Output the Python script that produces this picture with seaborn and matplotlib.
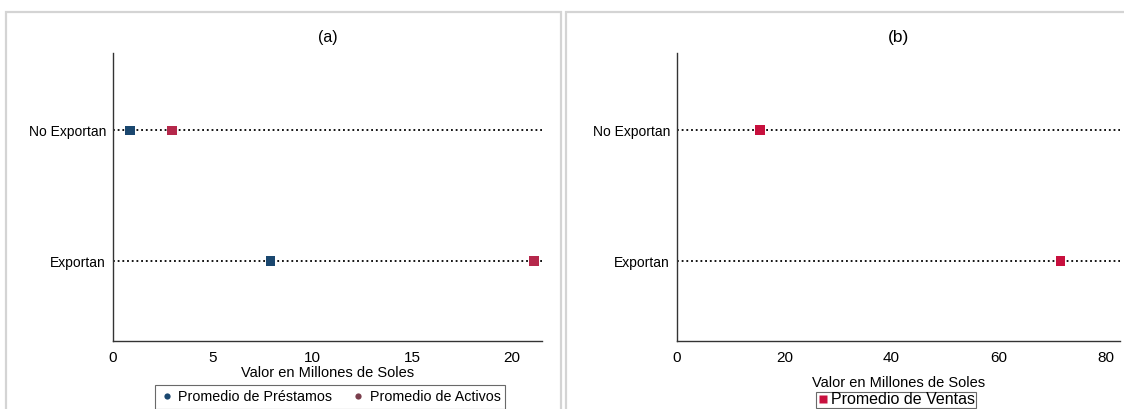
import pandas as pd
import matplotlib
matplotlib.use("Agg")
import matplotlib.pyplot as plt
import seaborn as sns
from matplotlib.lines import Line2D
from matplotlib.patches import Rectangle

# Datos (millones de soles)
categorias = ["Exportan", "No Exportan"]
prestamos = [7.9, 0.85]
activos = [21.1, 2.95]
ventas = [71.5, 15.5]

col_prestamos = "#1a476f"
col_activos = "#b5284b"
col_activos_leg = "#7a3e4c"
col_ventas = "#c8103e"

sns.set_theme(style="white")
plt.rcParams['font.family'] = ['Liberation Sans', 'DejaVu Sans']
plt.rcParams['text.color'] = 'black'
plt.rcParams['xtick.labelcolor'] = 'black'
plt.rcParams['ytick.labelcolor'] = 'black'
plt.rcParams['axes.labelcolor'] = 'black'

df_a = pd.DataFrame({
    'categoria': categorias * 2,
    'valor': prestamos + activos,
    'serie': ['Promedio de Préstamos'] * 2 + ['Promedio de Activos'] * 2,
})
df_a['pos'] = df_a['categoria'].map({c: i for i, c in enumerate(categorias)})

df_b = pd.DataFrame({
    'categoria': categorias,
    'valor': ventas,
    'serie': ['Promedio de Ventas'] * 2,
})
df_b['pos'] = df_b['categoria'].map({c: i for i, c in enumerate(categorias)})

fig = plt.figure(figsize=(11.24, 4.09), dpi=100)

# marcos grises de cada panel
for x0, w in [(6 / 1124, 555 / 1124), (566 / 1124, 560 / 1124)]:
    fig.patches.append(Rectangle((x0, -0.05), w, 1 - 12 / 409 + 0.05,
                                 transform=fig.transFigure, fill=False,
                                 edgecolor='#d4d4d4', linewidth=1.6))

alto = (341 - 53) / 409
ax1 = fig.add_axes([113 / 1124, 1 - 341 / 409, (542 - 113) / 1124, alto])
ax2 = fig.add_axes([677 / 1124, 1 - 341 / 409, (1120 - 677) / 1124, alto])


def estilo(ax, xmax, ticks):
    for i in range(len(categorias)):
        ax.axhline(i, color='black', linestyle=(0, (1, 1.6)), linewidth=1.3, zorder=1)
    ax.set_xlim(0, xmax)
    ax.set_ylim(-0.61, 1.59)
    ax.set_yticks(range(len(categorias)))
    ax.set_yticklabels(categorias, fontsize=10)
    ax.set_xticks(ticks)
    ax.set_xticklabels([str(t) for t in ticks], fontsize=11)
    for s in ['top', 'right']:
        ax.spines[s].set_visible(False)
    for s in ['left', 'bottom']:
        ax.spines[s].set_color('#333333')
        ax.spines[s].set_linewidth(1.0)
    ax.tick_params(axis='x', direction='out', length=5, width=0.8, color='#555555', pad=2)
    ax.tick_params(axis='y', direction='out', length=3, width=0.8, color='#555555', pad=2)
    ax.set_ylabel('')
    ax.set_facecolor('white')


sns.scatterplot(data=df_a, x='valor', y='pos', hue='serie',
                palette=[col_prestamos, col_activos], marker='s', s=45,
                edgecolor='none', zorder=3, legend=False, ax=ax1)
estilo(ax1, 21.5, [0, 5, 10, 15, 20])
ax1.set_xlabel('Valor en Millones de Soles', fontsize=10.5, labelpad=1)
ax1.set_title('(a)', fontsize=11.5, pad=8)

handles_a = [
    Line2D([], [], marker='o', color='none', markerfacecolor=col_prestamos,
           markeredgecolor='none', markersize=4.5, label='Promedio de Préstamos'),
    Line2D([], [], marker='o', color='none', markerfacecolor=col_activos_leg,
           markeredgecolor='none', markersize=4.5, label='Promedio de Activos'),
]
leg = ax1.legend(handles=handles_a, loc='upper center', bbox_to_anchor=(0.506, -0.153),
                 ncol=2, frameon=True, fancybox=False, fontsize=10.3, borderaxespad=0,
                 handletextpad=0.3, columnspacing=1.3, borderpad=0.35, handlelength=1.0)
leg.get_frame().set_edgecolor('#444444')
leg.get_frame().set_linewidth(0.8)

sns.scatterplot(data=df_b, x='valor', y='pos', color=col_ventas, marker='s', s=50,
                edgecolor='none', zorder=3, legend=False, ax=ax2)
estilo(ax2, 82.6, [0, 20, 40, 60, 80])
ax2.set_xlabel('Valor en Millones de Soles', fontsize=10.5, labelpad=8)
ax2.set_title('(b)', fontsize=12.5, pad=8)

handles_b = [Line2D([], [], marker='s', color='none', markerfacecolor=col_ventas,
                    markeredgecolor='none', markersize=6, label='Promedio de Ventas')]
leg2 = ax2.legend(handles=handles_b, loc='upper center', bbox_to_anchor=(0.494, -0.176),
                  frameon=True, fancybox=False, fontsize=11.5, borderaxespad=0,
                  handletextpad=0.1, borderpad=0.05, handlelength=0.8)
leg2.get_frame().set_edgecolor('#444444')
leg2.get_frame().set_linewidth(0.8)

fig.savefig('out.png', dpi=100, facecolor='white')
